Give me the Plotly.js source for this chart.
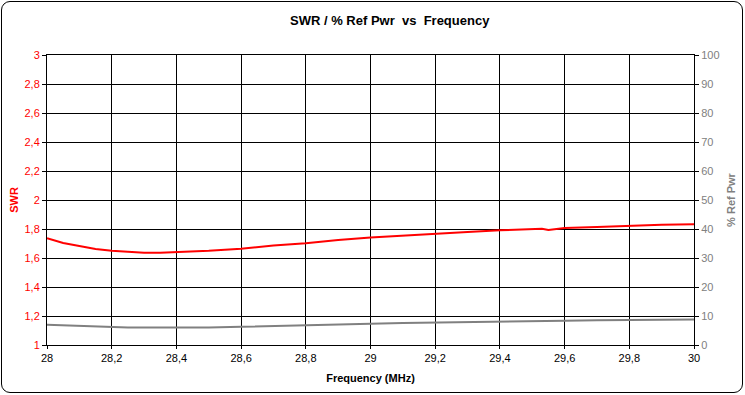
<!DOCTYPE html>
<html><head><meta charset="utf-8">
<script src="https://cdn.plot.ly/plotly-3.0.1.min.js"></script>
<style>
html,body{margin:0;padding:0;background:#fff;}
#wrap{position:relative;width:745px;height:395px;}
#chart{width:745px;height:395px;}
#frame{position:absolute;left:1px;top:1px;width:740px;height:390px;border:1px solid #000;border-radius:9px;pointer-events:none;}
</style></head>
<body>
<div id="wrap"><div id="chart"></div><div id="frame"></div></div>
<script>
// Frequency (MHz)
var freq = [28.0,28.05,28.1,28.15,28.2,28.25,28.3,28.35,28.4,28.5,28.6,28.7,28.8,28.9,29.0,29.1,29.2,29.3,29.4,29.5,29.53,29.55,29.58,29.6,29.7,29.8,29.9,30.0];
// SWR (left axis)
var swr = [1.736,1.703,1.683,1.662,1.650,1.643,1.637,1.637,1.641,1.650,1.664,1.687,1.701,1.724,1.741,1.755,1.768,1.780,1.791,1.796,1.802,1.793,1.800,1.807,1.814,1.823,1.830,1.832];
// % Reflected power (right axis)
var refPwr = [7.0,6.8,6.4,6.2,6.0,6.0,6.0,6.0,6.0,6.0,6.3,6.5,6.8,7.1,7.3,7.6,7.8,8.0,8.2,8.4,8.4,8.4,8.4,8.4,8.5,8.6,8.8,8.8];

var titleText = 'SWR / % Ref Pwr  vs  Frequency';
var xTitle = 'Frequency (MHz)';
var yTitle = 'SWR';
var y2Title = '% Ref Pwr';

var font = 'Arial, "Liberation Sans", sans-serif';
var traces = [
  {x: freq, y: swr, type: 'scatter', mode: 'lines', name: 'SWR', line: {color: '#FF0000', width: 2}, yaxis: 'y'},
  {x: freq, y: refPwr, type: 'scatter', mode: 'lines', name: '% Ref Pwr', line: {color: '#808080', width: 2}, yaxis: 'y2'}
];
var layout = {
  width: 745, height: 395,
  margin: {l: 47, r: 51, t: 55, b: 50},
  paper_bgcolor: '#fff', plot_bgcolor: '#fff',
  showlegend: false,
  separators: ', ',
  font: {family: font, size: 11, color: '#000'},
  annotations: [{
    text: '<b>' + titleText + '</b>', font: {family: font, size: 13, color: '#000'},
    xref: 'paper', x: 0.53, xanchor: 'center', yref: 'paper', y: 1.12, yanchor: 'middle', showarrow: false
  }],
  xaxis: {
    range: [28, 30], dtick: 0.2, tick0: 28, showgrid: true, gridcolor: '#000', gridwidth: 1,
    showline: true, linecolor: '#000', linewidth: 1, mirror: true,
    ticks: 'outside', ticklen: 3, tickcolor: '#000', zeroline: false,
    tickfont: {family: font, size: 11, color: '#000'},
    title: {text: '<b>' + xTitle + '</b>', font: {family: font, size: 11, color: '#000'}, standoff: 11}
  },
  yaxis: {
    range: [1, 3], dtick: 0.2, tick0: 1, showgrid: true, gridcolor: '#000', gridwidth: 1,
    showline: true, linecolor: '#000', linewidth: 1,
    ticks: 'outside', ticklen: 4, tickcolor: '#000', zeroline: false,
    tickfont: {family: font, size: 11, color: '#FF0000'},
    title: {text: '<b>' + yTitle + '</b>', font: {family: font, size: 11, color: '#FF0000'}, standoff: 3}
  },
  yaxis2: {
    range: [0, 100], dtick: 10, tick0: 0, overlaying: 'y', side: 'right', showgrid: false,
    showline: true, linecolor: '#000', linewidth: 1,
    ticks: 'outside', ticklen: 4, tickcolor: '#000', zeroline: false,
    tickfont: {family: font, size: 11, color: '#808080'},
    title: {text: '<b>' + y2Title + '</b>', font: {family: font, size: 11, color: '#808080'}, standoff: 8}
  }
};
Plotly.newPlot('chart', traces, layout, {staticPlot: true, displayModeBar: false});
</script>
</body></html>
